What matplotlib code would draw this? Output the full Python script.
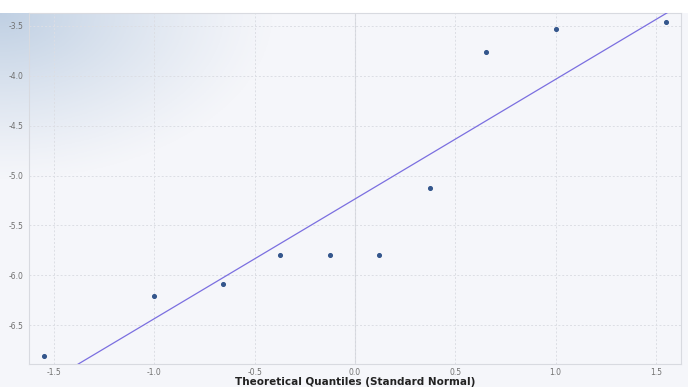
import numpy as np
import matplotlib
matplotlib.use("Agg")
import matplotlib.pyplot as plt

# values
theoretical_q = [-1.55, -1.00, -0.66, -0.375, -0.125, 0.12, 0.375, 0.655, 1.00, 1.55]
sample_q = [-6.81, -6.21, -6.09, -5.80, -5.80, -5.80, -5.12, -3.76, -3.53, -3.46]
line_x = [-1.70, 1.70]
line_slope = 1.20
line_intercept = -5.235

x_ticks = [-1.5, -1.0, -0.5, 0.0, 0.5, 1.0, 1.5]
y_ticks = [-3.5, -4.0, -4.5, -5.0, -5.5, -6.0, -6.5]

bg = "#f5f6fa"
fig = plt.figure(figsize=(6.88, 3.87), dpi=100, facecolor="white")

# light panel behind everything, starting a little below the top edge
panel = fig.add_axes([0, 0, 1, 1 - 13 / 387])
panel.set_xlim(0, 1)
panel.set_ylim(0, 1)
panel.axis("off")
panel.add_patch(plt.Rectangle((0, 0), 1, 1, color=bg, zorder=0))
# bluish glow in the top-left corner
gx, gy = np.meshgrid(np.linspace(0, 1, 300), np.linspace(0, 1, 200))
d = np.sqrt((gx / 0.40) ** 2 + ((1 - gy) / 0.45) ** 2)
alpha = np.clip(1 - d, 0, 1) ** 1.2 * 0.8
glow = np.zeros((200, 300, 4))
glow[..., 0] = 0.70
glow[..., 1] = 0.78
glow[..., 2] = 0.87
glow[..., 3] = alpha
panel.imshow(glow, extent=[0, 1, 0, 1], origin="lower", aspect="auto", zorder=1)

ax = fig.add_axes([29 / 688, 1 - 364 / 387, (681 - 29) / 688, (364 - 13) / 387])
ax.patch.set_alpha(0)

ax.grid(True, color="#dcdee4", linestyle=(0, (2, 2)), linewidth=0.7)
ax.axvline(0, color="#d4d6dc", linewidth=0.8, zorder=1)

xs = np.array(line_x)
ax.plot(xs, line_intercept + line_slope * xs, color="#7b6fe0", linewidth=0.9, zorder=3)
ax.scatter(theoretical_q, sample_q, s=7, color="#34568c", zorder=4)

ax.set_xlim(-1.625, 1.625)
ax.set_ylim(-6.89, -3.37)
ax.set_xticks(x_ticks)
ax.set_yticks(y_ticks)
ax.set_xticklabels([f"{v:.1f}" for v in x_ticks])
ax.set_yticklabels([f"{v:.1f}" for v in y_ticks])
ax.tick_params(length=0, labelsize=5.5, colors="#707070")
ax.tick_params(axis="x", pad=3)
ax.tick_params(axis="y", pad=4)
for s in ax.spines.values():
    s.set_color("#d8dae0")
    s.set_linewidth(0.8)

ax.set_xlabel("Theoretical Quantiles (Standard Normal)", fontsize=7.5,
              fontweight="bold", color="#222222", labelpad=0)

fig.savefig("out.png", dpi=100)
